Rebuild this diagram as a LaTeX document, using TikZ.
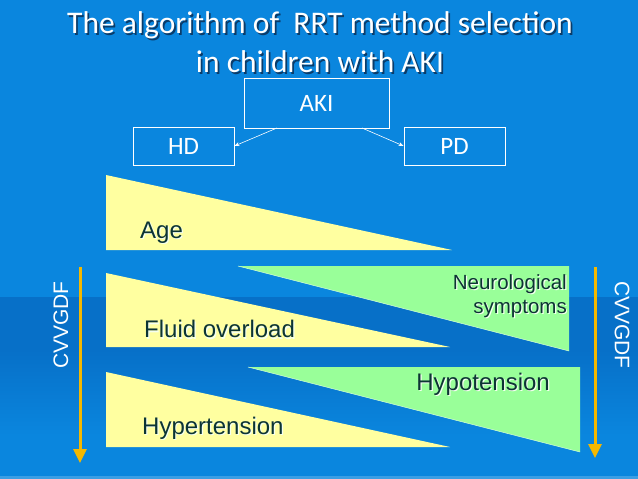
\documentclass[tikz,border=0pt]{standalone}
\usepackage{fontspec}
\setmainfont{Liberation Sans}
\newfontfamily\calib{Carlito}
\usetikzlibrary{arrows.meta}
\definecolor{bgblue}{HTML}{0A86DE}
\definecolor{bandblue}{HTML}{0770C8}
\definecolor{yel}{HTML}{FFFFA0}
\definecolor{grn}{HTML}{99FF99}
\definecolor{txtdark}{HTML}{0C3434}
\definecolor{orng}{HTML}{F5B800}
\definecolor{shadowblue}{HTML}{0A3C6A}
\definecolor{lightshadow}{HTML}{F4FFF0}
% text with a soft drop shadow, drawn inside one node
\newcommand\shd[3]{\makebox[0pt][l]{\hspace{#3}\raisebox{-#3}{\textcolor{#1}{#2}}}#2}
\tikzset{
  titletext/.style={text=white,font=\calib\fontsize{31.5}{36}\selectfont,inner sep=0pt},
  boxnode/.style={draw=white,line width=0.8pt,text=white,font=\calib\fontsize{25}{28}\selectfont,inner sep=0pt},
  lbl/.style={text=txtdark,inner sep=0pt,font=\fontsize{24}{27}\selectfont},
  smalllbl/.style={text=txtdark,inner sep=0pt,font=\fontsize{20.5}{24}\selectfont,align=right},
  sidelbl/.style={text=white,inner sep=0pt,font=\fontsize{21}{24}\selectfont},
  bigarrow/.style={draw=orng,line width=3pt,-{Triangle[width=13pt,length=14pt]}},
  thinarrow/.style={draw=white,line width=0.6pt,-{Stealth[width=4pt,length=5pt]}},
  hypedge/.style={draw=white!60!grn,line width=0.5pt}
}
\begin{document}
\begin{tikzpicture}[x=1pt,y=-1pt]
% background
\fill[bgblue] (0,0) rectangle (638,479);
\useasboundingbox (0,0) rectangle (638,479);
\fill[bandblue] (0,297) rectangle (638,350);
\shade[top color=bandblue,bottom color=bgblue] (0,350) rectangle (638,435);
\fill[bgblue!80!white] (0,476) rectangle (638,479);

% title
\node[titletext] (title1) at (320,26) {\shd{shadowblue}{The algorithm of\ \ RRT method selection}{1.8pt}};
\node[titletext] (title2) at (320,63) {\shd{shadowblue}{in children with AKI}{1.8pt}};

% boxes
\node[boxnode,minimum width=145pt,minimum height=50pt] (aki) at (316.5,103) {AKI};
\node[boxnode,minimum width=101pt,minimum height=38pt] (hd) at (183.5,146) {HD};
\node[boxnode,minimum width=101pt,minimum height=38pt] (pd) at (454.5,146) {PD};
\coordinate (akiL) at (277,128);
\coordinate (akiR) at (362,128);
\draw[thinarrow] (akiL) -- (hd.east);
\draw[thinarrow] (akiR) -- (pd.west);

% triangles
\fill[yel] (106,175) -- (452,250) -- (106,250) -- cycle;
\fill[grn] (238,266) -- (569,266) -- (569,351) -- cycle;
\draw[hypedge] (238,266) -- (569,351);
\fill[yel] (106,273) -- (450,347) -- (106,347) -- cycle;
\fill[grn] (248,367) -- (580,367) -- (580,452) -- cycle;
\draw[hypedge] (248,367) -- (580,452);
\fill[yel] (106,372) -- (450,447) -- (106,447) -- cycle;

% labels
\node[lbl,anchor=west] (age) at (140,233) {\shd{lightshadow}{Age}{1.2pt}};
\node[smalllbl,anchor=east] (neuro) at (567,297) {\shd{lightshadow}{Neurological}{1.2pt}\\\shd{lightshadow}{symptoms}{1.2pt}};
\node[lbl,anchor=west] (fluid) at (144,330) {\shd{lightshadow}{Fluid overload}{1.2pt}};
\node[lbl,anchor=east] (hypo) at (550,385) {\shd{lightshadow}{Hypotension}{1.2pt}};
\node[lbl,anchor=west] (hyper) at (142,429) {\shd{lightshadow}{Hypertension}{1.2pt}};

% side arrows
\coordinate (la1) at (80,267);
\coordinate (la2) at (80,463);
\coordinate (ra1) at (595,267);
\coordinate (ra2) at (595,458);
\draw[bigarrow] (la1) -- (la2);
\draw[bigarrow] (ra1) -- (ra2);
\node[sidelbl,rotate=90] (cvl) at (61,325) {CVVGDF};
\node[sidelbl,rotate=-90] (cvr) at (622,325) {CVVGDF};
\end{tikzpicture}
\end{document}
